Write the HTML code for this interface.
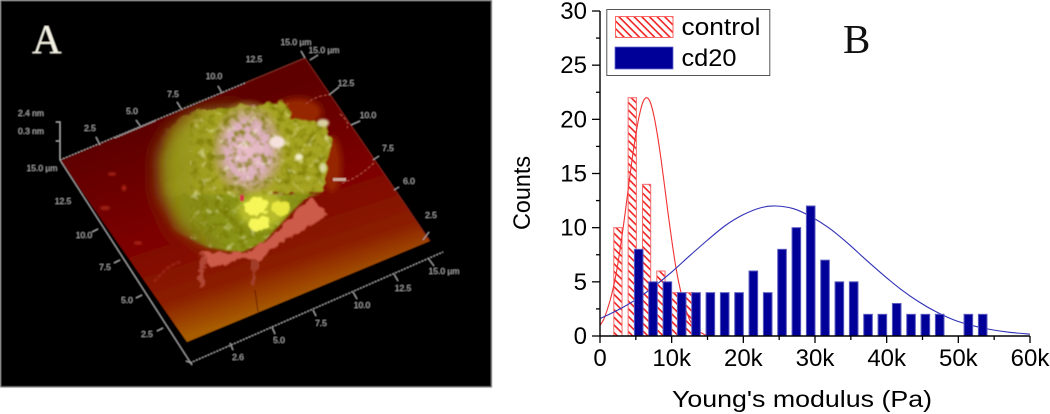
<!DOCTYPE html>
<html lang="en">
<head>
<meta charset="utf-8">
<title>AFM image and Young's modulus histogram</title>
<style>
html,body{margin:0;padding:0;background:#fff;width:1050px;height:414px;overflow:hidden}
svg{position:absolute;left:0;top:0;display:block}
.afm text{font-family:"Liberation Sans",sans-serif;font-size:8.5px;fill:#a8a8a8;text-anchor:middle}
.chart text{font-family:"Liberation Sans",sans-serif;fill:#000}
</style>
</head>
<body>
<svg width="1050" height="414" viewBox="0 0 1050 414">
<defs>
<linearGradient id="plateGrad" gradientUnits="userSpaceOnUse" x1="235" y1="100" x2="300" y2="300">
<stop offset="0" stop-color="#5e0000"/><stop offset=".55" stop-color="#800600"/><stop offset=".82" stop-color="#8c2000"/><stop offset="1" stop-color="#a85c00"/>
</linearGradient>
<linearGradient id="upperOlive" gradientUnits="userSpaceOnUse" x1="160" y1="0" x2="215" y2="0">
<stop offset="0" stop-color="#a6a424" stop-opacity="0"/><stop offset="1" stop-color="#a6a424"/>
</linearGradient>
<linearGradient id="lowerOlive" gradientUnits="userSpaceOnUse" x1="165" y1="0" x2="225" y2="0">
<stop offset="0" stop-color="#808a14" stop-opacity="0"/><stop offset="1" stop-color="#8a9418"/>
</linearGradient>
<radialGradient id="pinkGlow" gradientUnits="userSpaceOnUse" cx="248" cy="150" r="52" gradientTransform="translate(248 150) scale(.78 1) translate(-248 -150)">
<stop offset="0" stop-color="#e8bcc8"/><stop offset=".55" stop-color="#dcb0bc"/><stop offset=".8" stop-color="#b8a068" stop-opacity=".7"/><stop offset="1" stop-color="#a6a424" stop-opacity="0"/>
</radialGradient>
<filter id="b1" x="-30%" y="-30%" width="160%" height="160%"><feGaussianBlur stdDeviation="1"/></filter>
<filter id="b3" x="-30%" y="-30%" width="160%" height="160%"><feGaussianBlur stdDeviation="3"/></filter>
<filter id="b8" x="-30%" y="-30%" width="160%" height="160%"><feGaussianBlur stdDeviation="8"/></filter>
<filter id="soft" x="-5%" y="-5%" width="110%" height="110%"><feGaussianBlur stdDeviation="0.3"/></filter>
<filter id="softA" x="-5%" y="-5%" width="110%" height="110%"><feGaussianBlur stdDeviation="0.4"/></filter>
<filter id="rag" x="-20%" y="-20%" width="140%" height="140%">
<feTurbulence type="fractalNoise" baseFrequency="0.09" numOctaves="3" seed="4" result="n"/>
<feDisplacementMap in="SourceGraphic" in2="n" scale="12" xChannelSelector="R" yChannelSelector="G"/>
<feGaussianBlur stdDeviation="0.8"/>
</filter>
<filter id="tex" x="0" y="0" width="100%" height="100%">
<feTurbulence type="fractalNoise" baseFrequency="0.13" numOctaves="2" seed="7"/>
<feColorMatrix type="matrix" values="0 0 0 0 0.18  0 0 0 0 0.18  0 0 0 0 0  3 0 0 0 -1.4"/>
<feGaussianBlur stdDeviation="0.6"/>
</filter>
<filter id="tex2" x="0" y="0" width="100%" height="100%">
<feTurbulence type="fractalNoise" baseFrequency="0.12" numOctaves="2" seed="21"/>
<feColorMatrix type="matrix" values="0 0 0 0 1  0 0 0 0 1  0 0 0 0 .75  3.5 0 0 0 -2"/>
<feGaussianBlur stdDeviation="0.6"/>
</filter>
<clipPath id="cellClip"><polygon points="153,157 163,133 180,117 197,110 230,108 263,103 287,102 293,118 327,123 332,147 325,167 323,190 307,197 287,217 263,243 240,253 207,247 173,230 158,200"/></clipPath>
<pattern id="hatch" patternUnits="userSpaceOnUse" width="5.4" height="5.4" patternTransform="rotate(45)">
<rect width="5.4" height="5.4" fill="#fff"/><rect x="0" y="0" width="5.4" height="1.6" fill="#f02020"/>
</pattern>
</defs>

<g class="afm" filter="url(#softA)">
<rect x="0.5" y="0.5" width="491" height="386.5" fill="#000" stroke="#777"/>
<polygon points="60,160 305,58 430,241 187,342" fill="url(#plateGrad)"/>
<g>
<ellipse cx="298" cy="112" rx="24" ry="14" fill="#962806" filter="url(#b3)"/>
<ellipse cx="332" cy="165" rx="9" ry="28" fill="#962806" filter="url(#b3)"/>
<polygon points="158,155 170,130 197,112 240,107 240,245 207,244 178,228 160,195" fill="#8e8c18" filter="url(#b8)"/>
<polygon points="153,157 163,133 180,117 197,110 230,108 263,103 287,102 293,118 327,123 332,147 325,167 323,190 307,195 153,195" fill="url(#upperOlive)" filter="url(#rag)"/>
<polygon points="158,194 322,194 307,197 287,217 263,243 240,253 207,247 173,230" fill="url(#lowerOlive)" filter="url(#b1)"/>
<ellipse cx="248" cy="150" rx="42" ry="52" fill="url(#pinkGlow)"/>
<rect x="190" y="95" width="150" height="165" fill="#000" filter="url(#tex)" clip-path="url(#cellClip)" opacity=".8"/>
<rect x="190" y="95" width="150" height="165" fill="#fff" filter="url(#tex2)" clip-path="url(#cellClip)" opacity=".5"/>
<ellipse cx="262" cy="210" rx="24" ry="17" fill="#b8bc2c" filter="url(#b3)"/>
<ellipse cx="256" cy="206" rx="12" ry="9" fill="#f6f658" filter="url(#rag)"/>
<ellipse cx="281" cy="208" rx="9" ry="7" fill="#e8e840" filter="url(#rag)"/>
<ellipse cx="261" cy="224" rx="12" ry="7" fill="#f6f658" filter="url(#rag)"/>
<ellipse cx="277" cy="142" rx="8" ry="6" fill="#f5e2dc" filter="url(#b1)"/>
<ellipse cx="299" cy="157" rx="4" ry="3.5" fill="#f3ecc8" filter="url(#b1)"/>
<ellipse cx="323" cy="123" rx="6" ry="4" fill="#d8d0a0" filter="url(#b1)"/>
<ellipse cx="323" cy="168" rx="3.5" ry="5" fill="#d8d8a0" filter="url(#b1)"/>
<rect x="240" y="195" width="4" height="6" fill="#d83048"/>
</g>
<g>
<polygon points="310,197 328,212 300,233 280,244 262,258 245,258 210,268 200,252 225,254 245,254 266,241 288,218" fill="#cc5c4a" filter="url(#rag)"/>
<polygon points="200,254 206,256 202,288 198,286" fill="#b85040" filter="url(#rag)" opacity=".85"/>
<polygon points="253,258 258,258 255,284 252,284" fill="#a84434" filter="url(#rag)" opacity=".8"/>
<path d="M154,282 C166,268 172,264 180,262" stroke="#a83428" stroke-width="1.6" fill="none" stroke-dasharray="4 2" filter="url(#b1)"/>
<path d="M306,104 C315,96 325,95 329,95 M340,114 C347,120 349,124 347,128 M342,183 C358,178 366,170 375,162" stroke="#a84438" stroke-width="1.2" fill="none" stroke-dasharray="3 2"/>
<rect x="333" y="178" width="13" height="3" fill="#d0a898"/>
<ellipse cx="112" cy="174" rx="4" ry="1.5" fill="#b02818" filter="url(#b1)"/>
<ellipse cx="124" cy="188" rx="2" ry="3" fill="#b02818" filter="url(#b1)"/>
<ellipse cx="105" cy="208" rx="5" ry="2" fill="#a02418" filter="url(#b1)"/>
<ellipse cx="138" cy="243" rx="4" ry="1.5" fill="#b02818" filter="url(#b1)"/>
<path d="M255,290 L258,312" stroke="#5a1000" stroke-width=".8" fill="none"/>
</g>
<g fill="none" stroke="#a8a8a8" stroke-width="1">
<path d="M60,160 L245,83 M115,138 L155,121" stroke-dasharray="2 1.2"/>
<path d="M245,83 L305,58" stroke="#803028"/>
<path d="M305,58 L430,241" stroke="#80241c"/>
<path d="M60,160 L192,365"/>
<path d="M190,363 L443,252" stroke-dasharray="2 1.2"/>
<path d="M60,160 V122 H56 M60,141 H56"/>
<path d="M100,145 l-4,-8 M141,127 l-5,-7 M182,110 l-5,-8 M222,93 l-4,-7 M305,58 l-4,-7 M310,60 l8,-5 M329,95 l10,-8 M351,125 l9,-4 M373,160 l6,-4 M394,190 l5,-3 M423,240 l6,-8"/>
<path d="M98,229 l-6,3 M120,260 l-6,3 M142,295 l-6,3 M163,328 l-6,3 M192,363 l-6,-2"/>
<path d="M230,343 l3,7 M272,327 l3,7 M313,310 l3,6 M353,292 l4,7 M394,274 l4,7 M428,258 l6,8"/>
</g>
<g>
<text x="90" y="131">2.5</text>
<text x="132" y="114">5.0</text>
<text x="173" y="97">7.5</text>
<text x="214" y="79">10.0</text>
<text x="254" y="62">12.5</text>
<text x="296" y="45">15.0 µm</text>
<text x="324" y="53">15.0 µm</text>
<text x="346" y="86">12.5</text>
<text x="368" y="118">10.0</text>
<text x="388" y="151">7.5</text>
<text x="409" y="184">6.0</text>
<text x="431" y="218">2.5</text>
<text x="42" y="171">15.0 µm</text>
<text x="63" y="204">12.5</text>
<text x="84" y="238">10.0</text>
<text x="105" y="270">7.5</text>
<text x="127" y="303">5.0</text>
<text x="147" y="337">2.5</text>
<text x="238" y="360">2.6</text>
<text x="279" y="343">5.0</text>
<text x="321" y="326">7.5</text>
<text x="362" y="308">10.0</text>
<text x="403" y="291">12.5</text>
<text x="444" y="274">15.0 µm</text>
<text x="31" y="116">2.4 nm</text>
<text x="31" y="134">0.3 nm</text>
</g>
<text x="32" y="53" style="font-family:'Liberation Serif',serif;font-size:41px;fill:#f4f1e4;text-anchor:start;font-weight:normal">A</text>
</g>

<g class="chart" id="chart" filter="url(#soft)"></g>
<text x="843" y="53" style="font-family:'Liberation Serif',serif;font-size:41px;fill:#111">B</text>
</svg>
<script>
var controlBins = [2.5, 4.5, 6.5, 8.5, 10.5, 12.5];
var controlCounts = [10, 22, 14, 6, 4, 4];
var cd20Bins = [5.4, 7.4, 9.4, 11.4, 13.4, 15.4, 17.4, 19.4, 21.4, 23.4, 25.4, 27.4, 29.4, 31.4, 33.4, 35.4, 37.4, 39.4, 41.4, 43.4, 45.4, 47.4, 51.4, 53.4];
var cd20Counts = [8, 5, 5, 4, 4, 4, 4, 4, 6, 4, 8, 10, 12, 7, 5, 5, 2, 2, 3, 2, 2, 2, 2, 2];
var controlFitX = [0, 0.5, 1, 1.5, 2, 2.5, 3, 3.5, 4, 4.5, 5, 5.5, 6, 6.5, 7, 7.5, 8, 8.5, 9, 9.5, 10, 10.5, 11, 11.5, 12, 12.5, 13, 14, 15];
var controlFitY = [1, 1.5, 2.4, 3.5, 4.9, 6.7, 8.9, 11.3, 13.9, 16.4, 18.6, 20.4, 21.6, 22, 21.6, 20.4, 18.6, 16.4, 13.9, 11.3, 8.9, 6.7, 4.9, 3.5, 2.4, 1.5, 1, 0.35, 0];
var cd20FitX = [0, 2.5, 5, 7.5, 10, 12.5, 15, 17.5, 20, 22.5, 24.5, 27, 29.5, 32, 34.5, 37, 39.5, 42, 44.5, 47, 49.5, 52, 54.5, 57, 60];
var cd20FitY = [1.6, 2.4, 3.35, 4.55, 5.9, 7.4, 8.85, 10.2, 11.2, 11.85, 12, 11.75, 11, 9.95, 8.6, 7.1, 5.65, 4.3, 3.15, 2.2, 1.45, 0.95, 0.6, 0.35, 0.17];
var yTickValues = [0, 5, 10, 15, 20, 25, 30];
var yMinorValues = [2.5, 7.5, 12.5, 17.5, 22.5, 27.5];
var xTickValues = [0, 10, 20, 30, 40, 50, 60];
var xTickLabels = ['0', '10k', '20k', '30k', '40k', '50k', '60k'];
var xMinorValues = [5, 15, 25, 35, 45, 55];
var legendLabels = ['control', 'cd20'];

var NS = 'http://www.w3.org/2000/svg';
var chart = document.getElementById('chart');
function xScale(v) { return 600 + v * 430 / 60; }
function yScale(v) { return 336 - v * 325 / 30; }
function make(tag, attrs, parent) {
  var el = document.createElementNS(NS, tag);
  for (var k in attrs) { el.setAttribute(k, attrs[k]); }
  (parent || chart).appendChild(el);
  return el;
}
function bar(center, count, width, fill, stroke) {
  return make('rect', {
    x: xScale(center - width / 2),
    y: yScale(count),
    width: xScale(width) - xScale(0),
    height: yScale(0) - yScale(count),
    fill: fill,
    stroke: stroke,
    'stroke-width': 1
  });
}
function smoothPath(xs, ys) {
  var p = xs.map(function (x, i) { return [xScale(x), yScale(ys[i])]; });
  var d = 'M' + p[0][0] + ',' + p[0][1];
  for (var i = 0; i < p.length - 1; i++) {
    var a = p[Math.max(i - 1, 0)], b = p[i], c = p[i + 1], e = p[Math.min(i + 2, p.length - 1)];
    d += ' C' + (b[0] + (c[0] - a[0]) / 6) + ',' + (b[1] + (c[1] - a[1]) / 6) + ' ' +
      (c[0] - (e[0] - b[0]) / 6) + ',' + (c[1] - (e[1] - b[1]) / 6) + ' ' + c[0] + ',' + c[1];
  }
  return d;
}

controlBins.forEach(function (b, i) {
  var el = bar(b, controlCounts[i], 1.15, 'url(#hatch)', '#f66a6a');
  
  
});

var controlCurve = make('path', { d: smoothPath(controlFitX, controlFitY), fill: 'none', stroke: '#f03030', 'stroke-width': 1.1 });



var cd20Curve = make('path', { d: smoothPath(cd20FitX, cd20FitY), fill: 'none', stroke: '#3030b8', 'stroke-width': 1.1 });



cd20Bins.forEach(function (b, i) {
  var el = bar(b, cd20Counts[i], 1.2, '#000099', '#5a5ac0');
  
  
});

var yAxis = make('line', { x1: xScale(0), x2: xScale(0), y1: yScale(0), y2: yScale(30), stroke: '#000', 'stroke-width': 1.4 });



var xAxis = make('line', { x1: xScale(0), x2: xScale(60), y1: yScale(0), y2: yScale(0), stroke: '#000', 'stroke-width': 1.4 });



yTickValues.forEach(function (v) {
  var t = make('line', { x1: xScale(0) - 8, x2: xScale(0), y1: yScale(v), y2: yScale(v), stroke: '#000', 'stroke-width': 1.3 });
  
  
  var l = make('text', { x: 587, y: yScale(v) + 8, 'font-size': 24, 'text-anchor': 'end' });
  l.textContent = String(v);
  
  
});
yMinorValues.forEach(function (v) {
  var t = make('line', { x1: xScale(0) - 4, x2: xScale(0), y1: yScale(v), y2: yScale(v), stroke: '#000', 'stroke-width': 1.3 });
  
  
});
xTickValues.forEach(function (v, i) {
  var t = make('line', { x1: xScale(v), x2: xScale(v), y1: yScale(0), y2: yScale(0) + 7, stroke: '#000', 'stroke-width': 1.3 });
  
  
  var l = make('text', { x: xScale(v), y: 366, 'font-size': 24, 'text-anchor': 'middle' });
  l.textContent = xTickLabels[i];
  
  
});
xMinorValues.forEach(function (v) {
  var t = make('line', { x1: xScale(v), x2: xScale(v), y1: yScale(0), y2: yScale(0) + 4, stroke: '#000', 'stroke-width': 1.3 });
  
  
});

var xTitle = make('text', { x: 672, y: 407, 'font-size': 23, textLength: 260, lengthAdjust: 'spacingAndGlyphs' });
xTitle.textContent = "Young's modulus (Pa)";



var yTitle = make('text', { x: 0, y: 0, 'font-size': 24, textLength: 74, lengthAdjust: 'spacingAndGlyphs', 'text-anchor': 'middle', transform: 'translate(530,193) rotate(-90)' });
yTitle.textContent = 'Counts';



var legend = make('g', {});



var legendBox = make('rect', { x: 606.8, y: 9.5, width: 163, height: 66, fill: '#fff', stroke: '#555', 'stroke-width': 1 }, legend);



var swatchControl = make('rect', { x: 615.5, y: 16.5, width: 57.5, height: 21, fill: 'url(#hatch)', stroke: '#f66', 'stroke-width': 1 }, legend);



var swatchCd20 = make('rect', { x: 615, y: 47, width: 58, height: 22, fill: '#000099', stroke: '#6a6ac8', 'stroke-width': 0.8 }, legend);



var labelControl = make('text', { x: 681.5, y: 35, 'font-size': 24, textLength: 79, lengthAdjust: 'spacingAndGlyphs' }, legend);
labelControl.textContent = legendLabels[0];



var labelCd20 = make('text', { x: 681.5, y: 66, 'font-size': 24, textLength: 55, lengthAdjust: 'spacingAndGlyphs' }, legend);
labelCd20.textContent = legendLabels[1];


</script>
</body>
</html>
